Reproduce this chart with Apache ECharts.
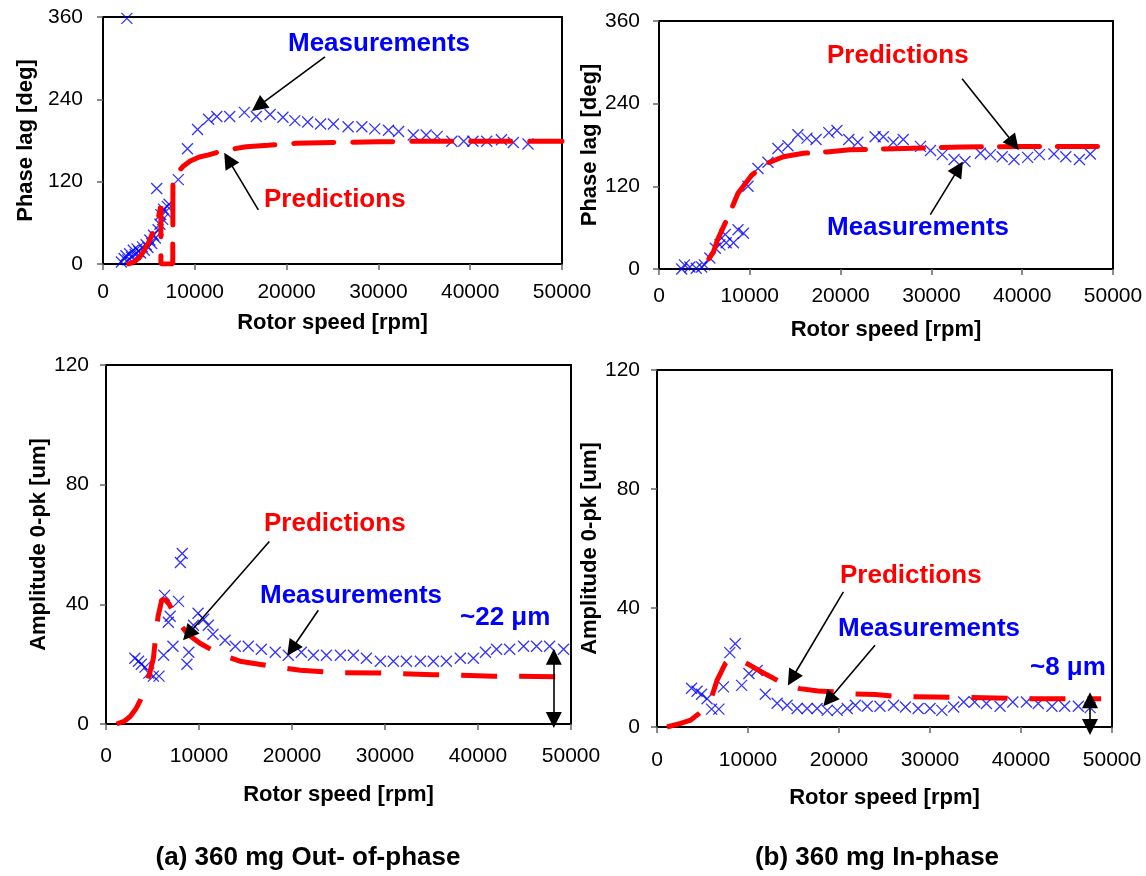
<!DOCTYPE html>
<html>
<head>
<meta charset="utf-8">
<script src="https://cdn.jsdelivr.net/npm/echarts@6/dist/echarts.min.js"></script>
<style>
  html, body { margin: 0; padding: 0; background: #fff; }
  #chart { width: 1146px; height: 876px; }
</style>
</head>
<body>
<div id="chart"></div>
<script>
// (a) out-of-phase, phase lag [deg] vs rotor speed [rpm]
const phaseOutMeas = [
  [2000, 3], [2300, 8], [2500, 12], [2600, 358], [2700, 6], [2900, 15], [3100, 10], [3300, 20],
  [3500, 14], [3700, 22], [3900, 18], [4100, 16], [4300, 25], [4500, 20], [4700, 28], [4900, 24],
  [5100, 35], [5300, 30], [5500, 42], [5700, 38], [5850, 110], [6000, 50], [6200, 58], [6300, 72],
  [6500, 65], [6600, 80], [6800, 76], [7000, 84], [7200, 87], [8200, 123], [9200, 168], [10300, 196],
  [11500, 211], [12400, 215], [13800, 215], [15400, 221], [16700, 215], [18200, 218], [19600, 214],
  [20900, 209], [22300, 207], [23700, 204], [25100, 204], [26700, 200], [28200, 200], [29600, 197],
  [31100, 195], [32200, 193], [33800, 188], [35200, 188], [36400, 186], [38000, 179], [39300, 179],
  [40300, 179], [41800, 179], [43400, 181], [44700, 177], [46300, 175]
]
const phaseOutPred = [
  [2800, 0], [3500, 4], [4000, 10], [4500, 20], [5000, 32], [5500, 48], [6000, 66], [6300, 84],
  [6310, 0], [7600, 0], [7620, 125], [8000, 131], [8700, 142], [9500, 150], [10500, 156], [11500, 159],
  [13000, 165], [15600, 171], [18000, 173], [21000, 176], [25000, 177], [30000, 178], [35000, 179],
  [40000, 179], [45000, 179], [50000, 179]
]
// (b) in-phase, phase lag
const phaseInMeas = [
  [2500, 0], [2800, 6], [3400, 3], [4100, 1], [4700, 3], [5000, 6], [5600, 16], [6200, 30], [6700, 35],
  [7300, 50], [7400, 38], [8200, 38], [8700, 57], [9300, 52], [9800, 120], [10900, 146], [12000, 155],
  [13100, 175], [14200, 179], [15300, 195], [16300, 190], [17300, 188], [18700, 198], [19600, 201],
  [20900, 188], [21900, 184], [23800, 192], [24700, 192], [25800, 184], [26900, 188], [28800, 178],
  [29900, 172], [31200, 166], [32500, 159], [33700, 156], [35400, 168], [36500, 166], [37800, 163],
  [39100, 159], [40600, 162], [41900, 166], [43500, 167], [44800, 163], [46300, 159], [47500, 167]
]
const phaseInPred = [
  [5500, 15], [6000, 25], [6500, 44], [7300, 67], [8000, 88], [8700, 110], [10200, 136], [11800, 153],
  [13700, 163], [15900, 168], [18500, 170], [21000, 173], [27000, 175], [33500, 177], [40000, 178],
  [48800, 178]
]
// (a) amplitude 0-pk [um]
const ampOutMeas = [
  [3100, 22], [3500, 21], [3800, 20], [4200, 19], [4600, 17], [5100, 16], [5700, 16], [6200, 23],
  [6300, 43], [6700, 34], [6900, 36], [7200, 26], [7800, 41], [8000, 54], [8200, 57], [8700, 20],
  [8900, 24], [9400, 33], [9900, 37], [10500, 35], [11000, 33], [11500, 30], [12800, 28], [13900, 26],
  [15300, 26], [16700, 25], [18200, 24], [19600, 23], [21000, 24], [22300, 23], [23700, 23], [25200, 23],
  [26600, 23], [28000, 22], [29500, 21], [30900, 21], [32300, 21], [33800, 21], [35200, 21], [36600, 21],
  [38100, 22], [39500, 22], [40800, 24], [42000, 25], [43400, 25], [44900, 26], [46300, 26], [47700, 26],
  [49200, 25]
]
const ampOutPred = [
  [1150, 0], [2000, 1], [2600, 2.5], [3200, 5], [3700, 8], [4200, 12], [4700, 17], [5100, 22],
  [5300, 28], [5600, 36], [6000, 41.5], [6400, 41.5], [6800, 40], [7300, 37], [7800, 34], [8800, 30],
  [10100, 27], [12100, 23.5], [14400, 21], [18400, 19], [20900, 18], [24400, 17.2], [29800, 17],
  [35200, 16.5], [41700, 16], [49600, 15.8]
]
// (b) amplitude
const ampInMeas = [
  [3800, 13], [4400, 12], [4900, 11], [5500, 9.5], [6000, 6], [6800, 6], [7300, 13.5], [8000, 25],
  [8600, 28], [9300, 14], [10100, 18], [11000, 19], [11900, 11], [13200, 8], [14300, 7.3], [15400, 6.2],
  [16500, 6.2], [17600, 6.2], [18700, 5.6], [19800, 5.6], [20900, 6.2], [21800, 7.3], [23100, 7],
  [24500, 7], [26000, 7.3], [27300, 6.7], [28700, 6.2], [30000, 6.2], [31300, 5.6], [32600, 6.7],
  [33700, 8.4], [34900, 8.4], [36200, 7.9], [37700, 7], [39100, 8.4], [40600, 8.4], [41900, 7.9],
  [43400, 7], [44800, 7], [46300, 7], [47600, 6.5]
]
const ampInPred = [
  [1100, 0], [2600, 1.2], [3700, 2.3], [4600, 4.5], [5500, 7], [6000, 10], [6600, 15.7], [7500, 21.3],
  [8100, 23], [9200, 22.4], [10200, 20.8], [11500, 18.5], [13900, 14.6], [15700, 12.9], [17700, 12.1],
  [19800, 11.8], [21200, 11.2], [24000, 10.9], [26300, 10.3], [30400, 10.1], [34400, 9.9], [40600, 9.5],
  [48800, 9.5]
]

// annotation arrows, in data units [rpm, value]
const arrowsTL = [[[24180, 302], [16920, 230]], [[16920, 79], [13650, 152]]]
const arrowsTR = [[[33380, 276], [39070, 182]], [[29880, 79], [33000, 146]]]
const arrowsBL = [[[17560, 61], [8850, 30]], [[22830, 38], [19970, 25]]]
const arrowsBR = [[[20480, 45.4], [14830, 16.3]], [[23960, 27.5], [18840, 9]]]
const spanBL = [[48150, 22.5], [48150, 1.3]]
const spanBR = [[47580, 9], [47580, 0]]

const xTicks = [0, 10000, 20000, 30000, 40000, 50000]
const phaseTicks = [0, 120, 240, 360]
const ampTicks = [0, 40, 80, 120]

const FONT = '"Liberation Sans", Arial, Helvetica, sans-serif'
const BLUE = '#0000ff'
const RED = '#ff0000'
const CROSS = 'path://M0,0L10,10M10,0L0,10'

const grids = [
  { left: 103, top: 17, width: 459, height: 247 },
  { left: 659, top: 21, width: 454, height: 248 },
  { left: 106, top: 365, width: 465, height: 359 },
  { left: 657, top: 370, width: 455, height: 357 }
]

function xAxis(gridIndex, margin, nameGap) {
  return {
    type: 'value', gridIndex: gridIndex,
    min: xTicks[0], max: xTicks[xTicks.length - 1], interval: xTicks[1] - xTicks[0],
    name: 'Rotor speed [rpm]', nameLocation: 'middle', nameGap: nameGap,
    nameTextStyle: { fontFamily: FONT, fontWeight: 'bold', fontSize: 22, color: '#000' },
    axisLine: { show: true, onZero: false, lineStyle: { color: '#000', width: 2 } },
    axisTick: { show: true, length: 6, lineStyle: { color: '#666', width: 1.5 } },
    axisLabel: { fontFamily: FONT, fontSize: 21, color: '#000', margin: margin, formatter: v => String(v) },
    splitLine: { show: false }
  }
}

function yAxis(gridIndex, ticks, name, nameGap, margin) {
  return {
    type: 'value', gridIndex: gridIndex,
    min: ticks[0], max: ticks[ticks.length - 1], interval: ticks[1] - ticks[0],
    name: name, nameLocation: 'middle', nameGap: nameGap,
    nameTextStyle: { fontFamily: FONT, fontWeight: 'bold', fontSize: 22, color: '#000' },
    axisLine: { show: true, onZero: false, lineStyle: { color: '#000', width: 2 } },
    axisTick: { show: true, length: 6, lineStyle: { color: '#666', width: 1.5 } },
    axisLabel: { fontFamily: FONT, fontSize: 21, color: '#000', margin: margin, formatter: v => String(v) },
    splitLine: { show: false }
  }
}

function meas(i, data) {
  return {
    type: 'scatter', xAxisIndex: i, yAxisIndex: i, data: data,
    symbol: CROSS, symbolSize: 11, silent: true,
    itemStyle: { color: BLUE, borderColor: BLUE, borderWidth: 1.3 }
  }
}

function pred(i, data, dash, cap) {
  return {
    type: 'line', xAxisIndex: i, yAxisIndex: i, data: data,
    showSymbol: false, symbol: 'none', silent: true,
    lineStyle: { color: RED, width: 5, type: dash, cap: cap }
  }
}

function arrows(i, list, symbols) {
  return {
    type: 'lines', coordinateSystem: 'cartesian2d', xAxisIndex: i, yAxisIndex: i,
    clip: false, silent: true, z: 5,
    symbol: symbols, symbolSize: 16,
    lineStyle: { color: '#000', width: 1.6, opacity: 1, curveness: 0 },
    data: list.map(c => ({ coords: c }))
  }
}

function label(text, x, y, color) {
  return {
    type: 'text', x: x, y: y, z: 10,
    style: { text: text, fill: color, font: 'bold 26px ' + FONT, verticalAlign: 'middle', align: 'left' }
  }
}

function caption(text, x, y) {
  return {
    type: 'text', x: x, y: y, z: 10,
    style: { text: text, fill: '#000', font: 'bold 26px ' + FONT, verticalAlign: 'middle', align: 'center' }
  }
}

const chart = echarts.init(document.getElementById('chart'))
chart.setOption({
  backgroundColor: '#fff',
  animation: false,
  grid: grids.map(g => Object.assign({ show: true, borderColor: '#000', borderWidth: 2, backgroundColor: '#fff' }, g)),
  xAxis: [xAxis(0, 18, 48), xAxis(1, 17, 50), xAxis(2, 22, 60), xAxis(3, 23, 60)],
  yAxis: [
    yAxis(0, phaseTicks, 'Phase lag [deg]', 66, 20),
    yAxis(1, phaseTicks, 'Phase lag [deg]', 58, 19),
    yAxis(2, ampTicks, 'Amplitude 0-pk [um]', 54, 17),
    yAxis(3, ampTicks, 'Amplitude 0-pk [um]', 42, 17)
  ],
  series: [
    pred(0, phaseOutPred, [40, 19], 'round'),
    meas(0, phaseOutMeas),
    arrows(0, arrowsTL, ['none', 'triangle']),
    pred(1, phaseInPred, [40, 18], 'round'),
    meas(1, phaseInMeas),
    arrows(1, arrowsTR, ['none', 'triangle']),
    pred(2, ampOutPred, [36, 22], 'butt'),
    meas(2, ampOutMeas),
    arrows(2, arrowsBL, ['none', 'triangle']),
    arrows(2, [spanBL], ['triangle', 'triangle']),
    pred(3, ampInPred, [36, 22], 'butt'),
    meas(3, ampInMeas),
    arrows(3, arrowsBR, ['none', 'triangle']),
    arrows(3, [spanBR], ['triangle', 'triangle'])
  ],
  graphic: [
    label('Measurements', 288, 44, BLUE),
    label('Predictions', 264, 200, RED),
    label('Predictions', 827, 56, RED),
    label('Measurements', 827, 228, BLUE),
    label('Predictions', 264, 524, RED),
    label('Measurements', 260, 596, BLUE),
    label('~22 \u03bcm', 460, 618, BLUE),
    label('Predictions', 840, 576, RED),
    label('Measurements', 838, 629, BLUE),
    label('~8 \u03bcm', 1030, 668, BLUE),
    caption('(a) 360 mg Out- of-phase', 308, 858),
    caption('(b) 360 mg In-phase', 877, 858)
  ]
})
</script>
</body>
</html>
